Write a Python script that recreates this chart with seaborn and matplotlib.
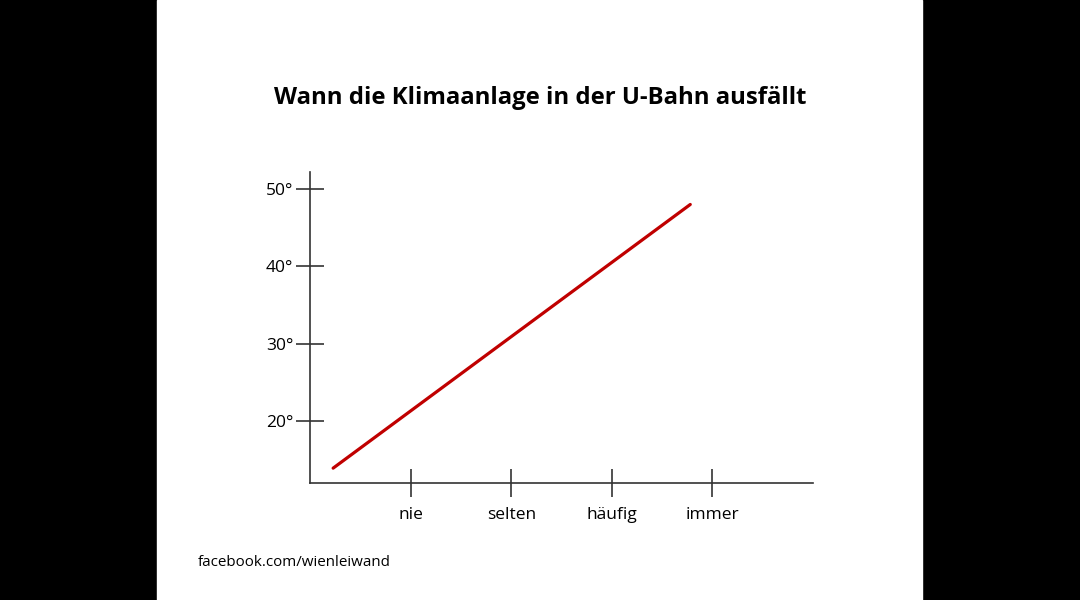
import numpy as np
import pandas as pd
import matplotlib
matplotlib.use("Agg")
import matplotlib.pyplot as plt
import seaborn as sns
from matplotlib.patches import Rectangle

# data
categories = ["nie", "selten", "häufig", "immer"]
cat_pos = [1, 2, 3, 4]
temp_ticks = [20, 30, 40, 50]
temp_labels = ["20°", "30°", "40°", "50°"]
line_x = [0.23, 3.78]
line_y = [13.9, 48.0]

sns.set_theme(style="white")
plt.rcParams['font.family'] = ['Open Sans', 'DejaVu Sans']

AXIS_COLOR = "#333333"

fig = plt.figure(figsize=(10.8, 6), dpi=100, facecolor="black")
# white slide area between the black bars
fig.patches.append(Rectangle((157 / 1080, 0), (922 - 157) / 1080, 1,
                             transform=fig.transFigure, color="white", zorder=-10))

ax = fig.add_axes([310 / 1080, 1 - 483 / 600, (813 - 310) / 1080, (483 - 172) / 600])
ax.set_facecolor("none")
ax.set_zorder(5)

df = pd.DataFrame({"x": line_x, "y": line_y})
sns.lineplot(data=df, x="x", y="y", color="#c00000", linewidth=2.3, ax=ax)

ax.set_xlim(0, 5)
ax.set_ylim(11.98, 52.2)
ax.set_xticks(cat_pos)
ax.set_xticklabels(categories)
ax.set_yticks(temp_ticks)
ax.set_yticklabels(temp_labels)
ax.set_xlabel("")
ax.set_ylabel("")

for side in ["top", "right"]:
    ax.spines[side].set_visible(False)
for side in ["left", "bottom"]:
    ax.spines[side].set_color(AXIS_COLOR)
    ax.spines[side].set_linewidth(1.2)

ax.tick_params(axis="both", direction="inout", length=20, width=1.2,
               color=AXIS_COLOR, labelcolor="black", labelsize=12.5)
ax.tick_params(axis="x", pad=7.5)
ax.tick_params(axis="y", pad=2)
ax.tick_params(left=True, bottom=True)

fig.text(540 / 1080, 1 - 98 / 600, "Wann die Klimaanlage in der U-Bahn ausfällt",
         ha="center", va="center", fontsize=17.2, fontweight="bold", color="black")
fig.text(198 / 1080, 1 - 562 / 600, "facebook.com/wienleiwand",
         ha="left", va="center", fontsize=10.9, color="black")

fig.savefig("out.png", dpi=100, facecolor=fig.get_facecolor())
